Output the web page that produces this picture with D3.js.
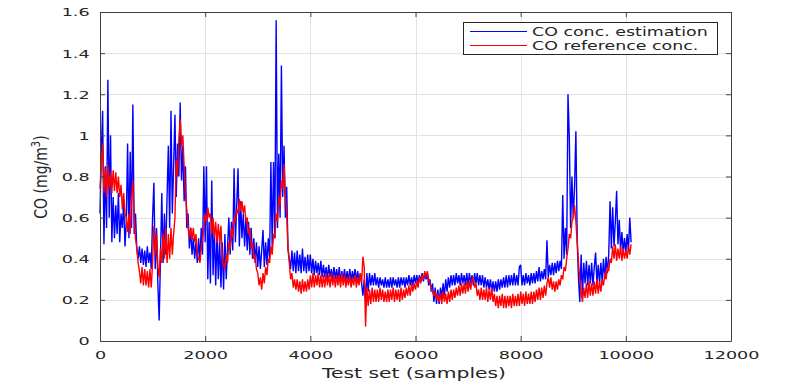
<!DOCTYPE html>
<html><head><meta charset="utf-8">
<script src="https://cdn.jsdelivr.net/npm/d3@7"></script>
<style>
body{margin:0;background:#fff}
svg{display:block}
text{font-family:"DejaVu Sans",sans-serif;fill:#262626}
</style>
</head><body>
<svg id="c" width="785" height="384"></svg>
<script>
const xTicks=[0,2000,4000,6000,8000,10000,12000];
const yTicks=[0,0.2,0.4,0.6,0.8,1,1.2,1.4,1.6];
const yTickLabels=["0","0.2","0.4","0.6","0.8","1","1.2","1.4","1.6"];
const seriesNames=["CO conc. estimation","CO reference conc."];
const sampleStep=25;
const estimation=[
0.62,0.93,1.12,0.47,0.85,0.55,1.27,0.60,1.00,0.48,
0.70,0.50,0.66,0.52,0.72,0.48,0.62,0.55,0.68,0.46,
0.58,0.96,0.50,0.92,0.55,1.15,0.52,0.62,0.45,0.40,
0.46,0.38,0.45,0.37,0.44,0.36,0.46,0.38,0.43,0.35,
0.60,0.77,0.35,0.55,0.28,0.10,0.40,0.72,0.38,0.62,
0.42,0.70,0.95,0.55,1.12,0.62,0.85,1.10,0.70,0.96,
0.80,1.16,0.78,0.95,0.68,0.85,0.55,0.62,0.45,0.55,
0.42,0.50,0.40,0.48,0.38,0.50,0.39,0.55,0.42,0.85,
0.48,0.85,0.30,0.58,0.28,0.78,0.32,0.55,0.27,0.52,
0.30,0.50,0.26,0.48,0.25,0.52,0.30,0.45,0.60,0.42,
0.58,0.44,0.84,0.48,0.66,0.84,0.46,0.68,0.50,0.62,
0.46,0.60,0.44,0.58,0.42,0.55,0.40,0.50,0.38,0.48,
0.36,0.46,0.35,0.44,0.54,0.36,0.48,0.37,0.50,0.40,
0.87,0.45,0.87,0.50,1.56,0.55,0.91,0.60,1.34,0.70,
0.95,0.60,0.75,0.45,0.40,0.35,0.44,0.34,0.43,0.33,
0.44,0.34,0.42,0.33,0.45,0.34,0.41,0.33,0.42,0.34,
0.42,0.33,0.40,0.32,0.39,0.33,0.38,0.32,0.39,0.31,
0.37,0.31,0.36,0.30,0.37,0.31,0.35,0.30,0.36,0.30,
0.35,0.30,0.36,0.29,0.34,0.30,0.35,0.29,0.34,0.29,
0.35,0.29,0.34,0.30,0.35,0.29,0.34,0.29,0.33,0.28,
0.22,0.30,0.19,0.33,0.24,0.33,0.27,0.32,0.27,0.33,
0.27,0.31,0.26,0.31,0.27,0.30,0.26,0.31,0.26,0.30,
0.26,0.31,0.26,0.31,0.27,0.30,0.26,0.31,0.26,0.31,
0.27,0.31,0.26,0.31,0.27,0.32,0.27,0.31,0.27,0.32,
0.28,0.32,0.28,0.32,0.29,0.33,0.29,0.33,0.30,0.33,
0.27,0.30,0.24,0.28,0.19,0.26,0.18,0.25,0.18,0.26,
0.21,0.28,0.22,0.30,0.24,0.31,0.26,0.32,0.27,0.32,
0.27,0.33,0.28,0.32,0.27,0.33,0.28,0.32,0.27,0.33,
0.27,0.33,0.28,0.32,0.27,0.33,0.28,0.33,0.27,0.32,
0.27,0.32,0.26,0.31,0.26,0.30,0.25,0.30,0.24,0.29,
0.24,0.29,0.24,0.30,0.25,0.30,0.26,0.31,0.26,0.32,
0.26,0.32,0.27,0.32,0.27,0.33,0.27,0.32,0.27,0.36,
0.37,0.27,0.32,0.27,0.33,0.28,0.32,0.27,0.33,0.28,
0.33,0.28,0.34,0.29,0.36,0.29,0.34,0.30,0.35,0.30,
0.49,0.31,0.37,0.32,0.38,0.32,0.38,0.33,0.39,0.34,
0.39,0.35,0.71,0.40,0.55,0.42,1.20,0.99,0.55,0.80,
0.60,0.75,1.02,0.50,0.30,0.19,0.42,0.22,0.38,0.28,
0.39,0.27,0.37,0.28,0.38,0.27,0.36,0.43,0.28,0.37,
0.28,0.38,0.29,0.40,0.30,0.41,0.33,0.42,0.68,0.45,
0.65,0.46,0.58,0.73,0.47,0.59,0.44,0.53,0.43,0.50,
0.43,0.52,0.44,0.60,0.48];
const reference=[
0.74,0.86,0.96,0.72,0.84,0.70,0.86,0.74,0.82,0.72,
0.83,0.73,0.82,0.72,0.80,0.70,0.76,0.64,0.72,0.62,
0.60,0.53,0.62,0.52,0.70,0.78,0.60,0.50,0.45,0.38,
0.34,0.28,0.36,0.27,0.35,0.27,0.34,0.26,0.35,0.26,
0.38,0.56,0.42,0.52,0.36,0.31,0.45,0.38,0.52,0.40,
0.55,0.38,0.52,0.40,0.55,0.42,0.52,0.60,0.88,0.80,
0.98,1.08,0.95,1.00,0.85,0.72,0.64,0.55,0.50,0.55,
0.49,0.55,0.48,0.52,0.42,0.40,0.38,0.45,0.50,0.55,
0.62,0.58,0.65,0.60,0.62,0.52,0.60,0.50,0.58,0.48,
0.57,0.48,0.56,0.40,0.36,0.35,0.42,0.38,0.48,0.45,
0.55,0.50,0.60,0.58,0.64,0.62,0.69,0.63,0.68,0.62,
0.66,0.58,0.60,0.52,0.55,0.45,0.48,0.40,0.42,0.35,
0.33,0.27,0.31,0.25,0.33,0.28,0.36,0.32,0.40,0.38,
0.46,0.42,0.52,0.50,0.62,0.58,0.70,0.66,0.78,0.74,
0.86,0.70,0.62,0.45,0.38,0.30,0.33,0.26,0.30,0.25,
0.30,0.24,0.29,0.23,0.30,0.24,0.29,0.24,0.30,0.25,
0.32,0.26,0.33,0.26,0.32,0.27,0.33,0.26,0.32,0.26,
0.32,0.26,0.33,0.27,0.32,0.26,0.33,0.27,0.32,0.26,
0.32,0.27,0.32,0.26,0.33,0.27,0.32,0.26,0.31,0.27,
0.32,0.26,0.31,0.27,0.32,0.26,0.31,0.27,0.33,0.28,
0.41,0.36,0.07,0.26,0.17,0.25,0.18,0.26,0.19,0.25,
0.19,0.25,0.19,0.26,0.20,0.25,0.19,0.24,0.19,0.25,
0.19,0.25,0.20,0.26,0.19,0.25,0.20,0.25,0.19,0.26,
0.20,0.25,0.21,0.26,0.22,0.27,0.22,0.28,0.24,0.28,
0.25,0.29,0.26,0.31,0.28,0.32,0.30,0.34,0.31,0.34,
0.30,0.28,0.26,0.24,0.22,0.24,0.20,0.23,0.19,0.23,
0.18,0.24,0.19,0.23,0.18,0.24,0.19,0.25,0.20,0.25,
0.21,0.26,0.22,0.27,0.22,0.28,0.23,0.28,0.23,0.29,
0.24,0.29,0.25,0.30,0.31,0.26,0.28,0.22,0.25,0.20,
0.26,0.20,0.25,0.20,0.26,0.19,0.25,0.20,0.26,0.19,
0.23,0.17,0.22,0.16,0.22,0.17,0.23,0.16,0.22,0.16,
0.22,0.17,0.22,0.16,0.23,0.17,0.22,0.17,0.23,0.17,
0.24,0.18,0.23,0.17,0.24,0.18,0.23,0.18,0.24,0.18,
0.24,0.19,0.25,0.20,0.26,0.20,0.26,0.21,0.27,0.22,
0.28,0.31,0.26,0.31,0.25,0.29,0.24,0.29,0.25,0.30,
0.27,0.32,0.30,0.36,0.34,0.40,0.45,0.52,0.50,0.58,
0.60,0.66,0.58,0.48,0.38,0.30,0.24,0.19,0.26,0.21,
0.28,0.21,0.29,0.22,0.28,0.22,0.29,0.23,0.30,0.23,
0.29,0.24,0.30,0.27,0.33,0.30,0.36,0.34,0.40,0.38,
0.46,0.40,0.47,0.39,0.45,0.40,0.46,0.39,0.45,0.40,
0.44,0.40,0.46,0.42,0.47];
const colors=["#0000ff","#ff0000"];

const L=100,R=731,T=12,B=341;
const svg=d3.select("#c");
const x=d3.scaleLinear().domain([0,12000]).range([L,R]);
const y=d3.scaleLinear().domain([0,1.6]).range([B,T]);

// grid
const grid=svg.append("g").attr("stroke","#e3e3e3").attr("stroke-width",1);
grid.selectAll("line.vx").data(xTicks.slice(1,-1)).join("line")
  .attr("x1",d=>Math.round(x(d))+0.5).attr("x2",d=>Math.round(x(d))+0.5)
  .attr("y1",T).attr("y2",B);
grid.selectAll("line.hy").data(yTicks.slice(1,-1)).join("line")
  .attr("y1",d=>Math.round(y(d))+0.5).attr("y2",d=>Math.round(y(d))+0.5)
  .attr("x1",L).attr("x2",R);

// data lines
const line=d3.line().x((d,i)=>x(i*sampleStep)).y(d=>y(d));
[estimation,reference].forEach((s,k)=>{
  svg.append("path").datum(s).attr("d",line)
    .attr("fill","none").attr("stroke",colors[k]).attr("stroke-width",1.4)
    .attr("stroke-linejoin","miter").attr("stroke-miterlimit",2);
});

// axes
const axColor="#404040";
const tl=5;
const gx=svg.append("g").attr("transform",`translate(0,${B})`)
  .call(d3.axisBottom(x).tickValues(xTicks).tickFormat(d3.format("d")).tickSize(-tl).tickSizeOuter(0).tickPadding(10));
const gxt=svg.append("g").attr("transform",`translate(0,${T})`)
  .call(d3.axisTop(x).tickValues(xTicks).tickFormat("").tickSize(-tl).tickSizeOuter(0));
const gy=svg.append("g").attr("transform",`translate(${L},0)`)
  .call(d3.axisLeft(y).tickValues(yTicks).tickFormat((d,i)=>yTickLabels[i]).tickSize(-tl).tickSizeOuter(0));
const gyr=svg.append("g").attr("transform",`translate(${R},0)`)
  .call(d3.axisRight(y).tickValues(yTicks).tickFormat("").tickSize(-tl).tickSizeOuter(0));
[gx,gxt,gy,gyr].forEach(g=>{
  g.select(".domain").attr("stroke",axColor).attr("stroke-width",1);
  g.selectAll(".tick line").attr("stroke",axColor);
  g.selectAll(".tick text").attr("font-family","DejaVu Sans").attr("fill","#333");
});
gx.selectAll(".tick text").attr("font-size",11).attr("transform","scale(1.6,1)");
gy.selectAll(".tick text").attr("font-size",11).attr("x",-6.5).attr("dy","0.36em").attr("transform","scale(1.6,1)");

// axis titles
svg.append("text").attr("transform","translate(414,378) scale(1.45,1)")
  .attr("text-anchor","middle").attr("font-size",14).text("Test set (samples)");
const yl=svg.append("text").attr("transform","translate(47,177) scale(1.2,1) rotate(-90)")
  .attr("text-anchor","middle").attr("font-size",14);
yl.append("tspan").text("CO (mg/m");
yl.append("tspan").attr("font-size",10).attr("dy","-0.6em").text("3");
yl.append("tspan").attr("dy","0.42em").text(")");

// legend
const lg=svg.append("g");
lg.append("rect").attr("x",463.5).attr("y",22.5).attr("width",254).attr("height",32)
  .attr("fill","#fff").attr("stroke","#262626").attr("stroke-width",1);
seriesNames.forEach((n,k)=>{
  const cy=31.5+k*14;
  lg.append("line").attr("x1",470).attr("x2",527).attr("y1",cy).attr("y2",cy)
    .style("stroke",colors[k]).attr("stroke-width",1.2);
  lg.append("text").attr("transform",`translate(532,${cy+4.6}) scale(1.34,1)`)
    .attr("font-size",13).text(n);
});
</script>
</body></html>
